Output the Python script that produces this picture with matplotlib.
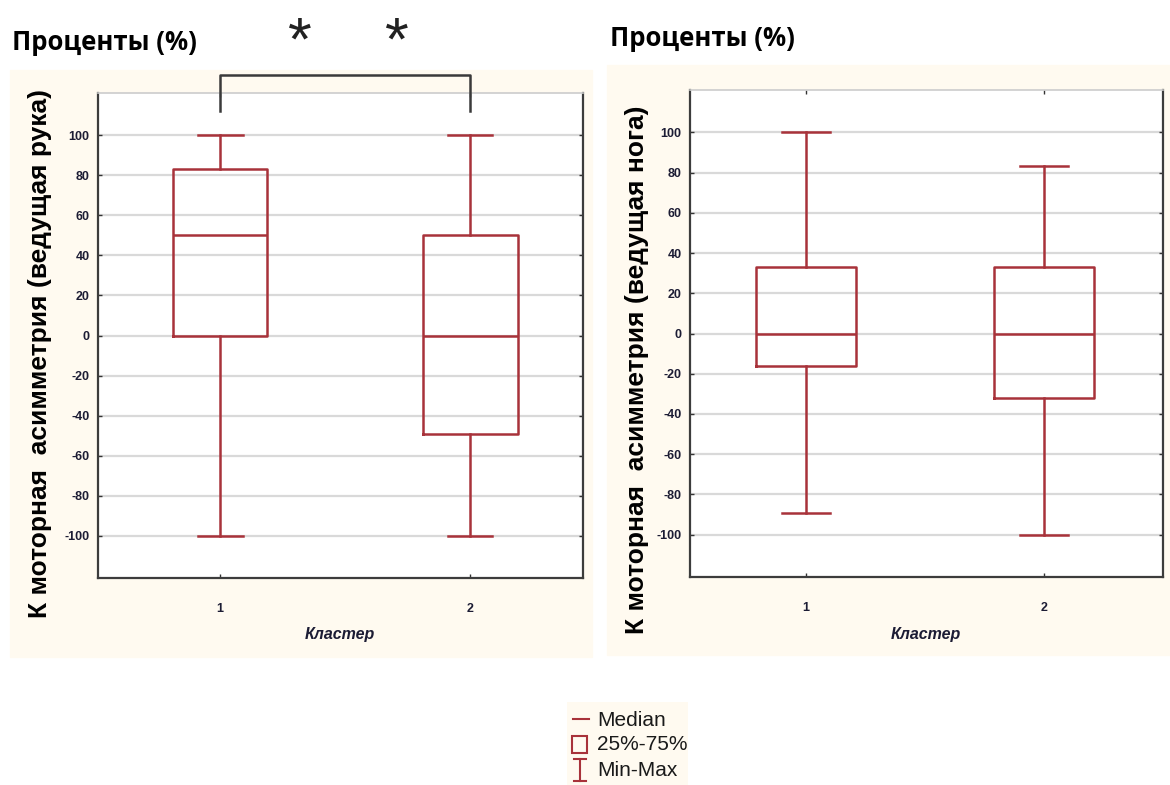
"""Box plots of motor asymmetry coefficient by cluster (hand and leg)."""

from __future__ import annotations

import matplotlib

matplotlib.use("Agg")
import matplotlib.pyplot as plt
from matplotlib.patches import Rectangle

FONT = ["Liberation Sans", "DejaVu Sans"]
plt.rcParams["font.family"] = FONT

clusters = [1, 2]
cluster_labels = ["1", "2"]
y_ticks = [-100, -80, -60, -40, -20, 0, 20, 40, 60, 80, 100]

# dominant hand
hand_min = [-100, -100]
hand_q1 = [0, -49]
hand_med = [50, 0]
hand_q3 = [83, 50]
hand_max = [100, 100]

# dominant leg
leg_min = [-89, -100]
leg_q1 = [-16, -32]
leg_med = [0, 0]
leg_q3 = [33, 33]
leg_max = [100, 83]

BOX_RED = "#a8323a"
CREAM = "#fffaf0"
W, H = 1170, 785


def fx(px: float) -> float:
    return px / W


def fy(py: float) -> float:
    return 1 - py / H


def make_stats(lo, q1, med, q3, hi) -> list[dict]:
    return [
        {"whislo": a, "q1": b, "med": c, "q3": d, "whishi": e, "fliers": []}
        for a, b, c, d, e in zip(lo, q1, med, q3, hi)
    ]


def draw_panel(ax, stats, xlim, box_w, cap_w) -> None:
    style = {"color": BOX_RED, "linewidth": 1.8}
    ax.bxp(
        stats,
        positions=clusters,
        widths=box_w,
        capwidths=cap_w,
        showfliers=False,
        boxprops=style,
        whiskerprops=style,
        capprops=style,
        medianprops=style,
        zorder=3,
    )
    ax.set_xlim(*xlim)
    ax.set_ylim(-121, 121)
    ax.set_yticks(y_ticks)
    ax.set_yticklabels([str(t) for t in y_ticks])
    ax.set_xticks(clusters)
    ax.set_xticklabels(cluster_labels)
    ax.yaxis.grid(True, color="#d9d9d9", linewidth=1.6, zorder=0)
    ax.set_axisbelow(True)
    ax.set_facecolor("white")
    ax.tick_params(axis="both", direction="in", length=3, width=1, color="#333333",
                   labelsize=9, labelcolor="#1c1c34", right=True, top=True)
    ax.tick_params(axis="y", pad=6)
    ax.tick_params(axis="x", pad=18)
    for lab in ax.get_xticklabels() + ax.get_yticklabels():
        lab.set_fontweight("bold")
    for side in ("left", "bottom", "right"):
        ax.spines[side].set_color("#3c3c3c")
        ax.spines[side].set_linewidth(1.6)
    ax.spines["top"].set_color("#cccccc")
    ax.spines["top"].set_linewidth(1.2)


def main() -> None:
    fig = plt.figure(figsize=(11.7, 7.85), dpi=100)
    fig.patch.set_facecolor("white")

    # cream panel backgrounds
    fig.patches.append(Rectangle((fx(10), fy(657)), fx(582), 587 / H,
                                 transform=fig.transFigure, color=CREAM, zorder=0))
    fig.patches.append(Rectangle((fx(607), fy(655)), fx(563), 590 / H,
                                 transform=fig.transFigure, color=CREAM, zorder=0))

    ax1 = fig.add_axes([fx(98), fy(578), fx(485), 485 / H], zorder=2)
    ax2 = fig.add_axes([fx(690), fy(577), fx(473), 487 / H], zorder=2)

    draw_panel(ax1, make_stats(hand_min, hand_q1, hand_med, hand_q3, hand_max),
               (0.512, 2.452), 0.38, 0.18)
    draw_panel(ax2, make_stats(leg_min, leg_q1, leg_med, leg_q3, leg_max),
               (0.513, 2.5), 0.42, 0.2)

    # significance bracket
    ax1.plot([clusters[0], clusters[0], clusters[1], clusters[1]], [112, 130, 130, 112],
             color="#3a3a3a", linewidth=1.8, clip_on=False, zorder=4)
    for xp in (300, 397):
        fig.text(fx(xp), fy(44), "*", fontsize=44, ha="center", va="center", color="#222222")

    # titles
    fig.text(fx(12), fy(50), "Проценты (%)", fontsize=18.5, fontweight="bold", ha="left",
             va="baseline", family=["Open Sans", "DejaVu Sans"])
    fig.text(fx(610), fy(46), "Проценты (%)", fontsize=18.5, fontweight="bold", ha="left",
             va="baseline", family=["Open Sans", "DejaVu Sans"])

    # y labels
    fig.text(fx(40), fy(354), "К моторная  асимметрия (ведущая рука)", rotation=90,
             fontsize=19, fontweight="bold", ha="center", va="center")
    fig.text(fx(637), fy(370), "К моторная  асимметрия (ведущая нога)", rotation=90,
             fontsize=19, fontweight="bold", ha="center", va="center")

    # x labels
    for xp in (340, 926):
        fig.text(fx(xp), fy(634), "Кластер", fontsize=11.5, fontweight="bold",
                 fontstyle="italic", ha="center", va="center", color="#1c1c34")

    # legend
    lax = fig.add_axes([fx(567), fy(785), fx(121), 83 / H])
    lax.set_xlim(0, 121)
    lax.set_ylim(83, 0)
    lax.axis("off")
    lax.add_patch(Rectangle((0, 0), 121, 83, color=CREAM, zorder=0))
    lax.plot([6, 22], [17, 17], color=BOX_RED, linewidth=1.5)
    lax.add_patch(Rectangle((5, 34), 15, 17, fill=False, edgecolor=BOX_RED, linewidth=1.5))
    lax.plot([13, 13], [57, 79], color=BOX_RED, linewidth=1.5)
    lax.plot([7, 19], [57, 57], color=BOX_RED, linewidth=1.5)
    lax.plot([7, 19], [79, 79], color=BOX_RED, linewidth=1.5)
    for yy, txt in zip([18, 43, 68], ["Median", "25%-75%", "Min-Max"]):
        lax.text(30, yy, txt, fontsize=15, ha="left", va="center", color="#1a1a1a")

    fig.savefig("out.png", dpi=100)
    plt.close(fig)


if __name__ == "__main__":
    main()
